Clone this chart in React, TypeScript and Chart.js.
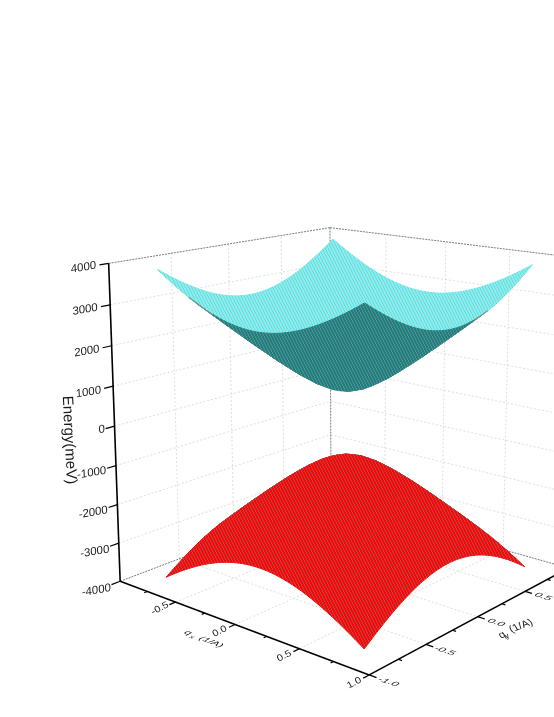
import React, { useEffect, useRef } from "react";
import { Chart, registerables } from "chart.js";
Chart.register(...registerables);

// |q| sampled from the centre of the surface to its edge; the surfaces are symmetric in qx and qy
const qSteps = [0, 0.0667, 0.1333, 0.2, 0.2667, 0.3333, 0.4, 0.4667, 0.5333, 0.6, 0.6667, 0.7333, 0.8];
const upperQuarter = [
  [800,830,915,1041,1195,1368,1553,1747,1947,2151,2359,2569,2780],
  [830,859,941,1064,1215,1386,1569,1761,1960,2163,2369,2578,2789],
  [915,941,1017,1131,1275,1438,1615,1803,1997,2197,2400,2607,2816],
  [1041,1064,1131,1235,1368,1521,1690,1870,2058,2252,2451,2654,2859],
  [1195,1215,1275,1368,1489,1631,1789,1960,2140,2327,2520,2718,2919],
  [1368,1386,1438,1521,1631,1761,1909,2070,2241,2421,2607,2798,2994],
  [1553,1569,1615,1690,1789,1909,2046,2197,2359,2530,2709,2893,3083],
  [1747,1761,1803,1870,1960,2070,2197,2338,2491,2654,2824,3002,3185],
  [1947,1960,1997,2058,2140,2241,2359,2491,2635,2789,2952,3122,3299],
  [2151,2163,2197,2252,2327,2421,2530,2654,2789,2936,3091,3254,3423],
  [2359,2369,2400,2451,2520,2607,2709,2824,2952,3091,3239,3394,3557],
  [2569,2578,2607,2654,2718,2798,2893,3002,3122,3254,3394,3544,3700],
  [2780,2789,2816,2859,2919,2994,3083,3185,3299,3423,3557,3700,3850],
];
const lowerQuarter = [
  [-900,-928,-1007,-1126,-1274,-1442,-1624,-1816,-2015,-2219,-2427,-2638,-2851],
  [-928,-955,-1032,-1148,-1294,-1460,-1640,-1830,-2028,-2231,-2437,-2647,-2859],
  [-1007,-1032,-1103,-1213,-1351,-1511,-1686,-1872,-2065,-2265,-2468,-2676,-2886],
  [-1126,-1148,-1213,-1313,-1442,-1593,-1760,-1938,-2126,-2320,-2519,-2723,-2930],
  [-1274,-1294,-1351,-1442,-1561,-1701,-1858,-2028,-2208,-2395,-2589,-2787,-2990],
  [-1442,-1460,-1511,-1593,-1701,-1830,-1977,-2138,-2309,-2489,-2676,-2868,-3065],
  [-1624,-1640,-1686,-1760,-1858,-1977,-2114,-2265,-2427,-2599,-2778,-2964,-3155],
  [-1816,-1830,-1872,-1938,-2028,-2138,-2265,-2406,-2559,-2723,-2895,-3073,-3258],
  [-2015,-2028,-2065,-2126,-2208,-2309,-2427,-2559,-2704,-2859,-3023,-3195,-3373],
  [-2219,-2231,-2265,-2320,-2395,-2489,-2599,-2723,-2859,-3007,-3163,-3327,-3499],
  [-2427,-2437,-2468,-2519,-2589,-2676,-2778,-2895,-3023,-3163,-3312,-3469,-3634],
  [-2638,-2647,-2676,-2723,-2787,-2868,-2964,-3073,-3195,-3327,-3469,-3620,-3778],
  [-2851,-2859,-2886,-2930,-2990,-3065,-3155,-3258,-3373,-3499,-3634,-3778,-3929],
];
const energyTicks = [-4000, -3000, -2000, -1000, 0, 1000, 2000, 3000, 4000];
const qxTicks = [-0.5, 0, 0.5, 1];
const qyTicks = [-1, -0.5, 0, 0.5];
const qMinor = [-0.75, -0.25, 0.25, 0.75];
const gridQ = [-0.5, 0, 0.5];

const qGrid = [...qSteps.slice(1).reverse().map((q) => -q), ...qSteps];
const mirrorRow = (r: number[]) => [...r.slice(1).reverse(), ...r];
const mirror = (t: number[][]) => [...t.slice(1).reverse(), ...t].map(mirrorRow);
const upperEnergy = mirror(upperQuarter);
const lowerEnergy = mirror(lowerQuarter);

// camera: calibration of the 3D box against the picture (qx, qy, E/4000 -> px)
const anchors: number[][] = [
  [-1,-1,1,108,264],[-1,-1,-1,120,581],[-1,1,1,331,228],[-1,1,-1,331,500],
  [1,1,1,578,257],[1,1,-1,568,569],[1,-1,-1,370,674],
  [-0.5,-1,-1,175,603],[0,-1,-1,235,624],[0.5,-1,-1,300,649],
  [1,-0.5,-1,427,643],[1,0,-1,477,618],[1,0.5,-1,525,592],
];
function solveCamera(): number[] {
  const n = 11;
  const A: number[][] = Array.from({ length: n }, () => new Array(n + 1).fill(0));
  const add = (r: number[], b: number) => {
    for (let i = 0; i < n; i++) {
      for (let j = 0; j < n; j++) A[i][j] += r[i] * r[j];
      A[i][n] += r[i] * b;
    }
  };
  for (const [x, y, z, u, v] of anchors) {
    add([x, y, z, 1, 0, 0, 0, 0, -u * x, -u * y, -u * z], u);
    add([0, 0, 0, 0, x, y, z, 1, -v * x, -v * y, -v * z], v);
  }
  for (let c = 0; c < n; c++) {
    let p = c;
    for (let r = c + 1; r < n; r++) if (Math.abs(A[r][c]) > Math.abs(A[p][c])) p = r;
    [A[c], A[p]] = [A[p], A[c]];
    for (let r = 0; r < n; r++) {
      if (r === c) continue;
      const f = A[r][c] / A[c][c];
      for (let k = c; k <= n; k++) A[r][k] -= f * A[c][k];
    }
  }
  return A.map((row, i) => row[n] / row[i]);
}
const M = solveCamera();
const depth = (x: number, y: number, z: number) => M[8] * x + M[9] * y + M[10] * z + 1;
const proj = (x: number, y: number, E: number) => {
  const z = E / 4000;
  const h = depth(x, y, z);
  return { x: (M[0] * x + M[1] * y + M[2] * z + M[3]) / h, y: (M[4] * x + M[5] * y + M[6] * z + M[7]) / h };
};

function speckle(base: string, spot: string, size = 6): CanvasPattern | string {
  const c = document.createElement("canvas");
  c.width = size; c.height = size;
  const g = c.getContext("2d");
  if (!g) return base;
  g.fillStyle = base; g.fillRect(0, 0, size, size);
  g.fillStyle = spot;
  for (let i = 0; i < size; i++) {
    g.fillRect(i, (i * 2) % size, 1, 1);
    g.fillRect(i, (i * 2 + 1) % size, 1, 1);
  }
  return g.createPattern(c, "repeat") || base;
}

function lineDs(a: any, b: any, color: string, width: number, dash: number[] = []) {
  return { data: [a, b], showLine: true, borderColor: color, borderWidth: width, borderDash: dash, pointRadius: 0, fill: false, clip: false };
}

function surface(E: number[][], top: any, under: any, edgeOn: any) {
  const quads: any[] = [];
  for (let i = 0; i < qGrid.length - 1; i++) {
    for (let j = 0; j < qGrid.length - 1; j++) {
      const c = [[i, j], [i + 1, j], [i + 1, j + 1], [i, j + 1]].map(([a, b]) => proj(qGrid[a], qGrid[b], E[a][b]));
      const f = [[i, j], [i + 1, j], [i + 1, j + 1], [i, j + 1]].map(([a, b]) => proj(qGrid[a], qGrid[b], -4000));
      const areaOf = (pts: any[]) => {
        let s = 0;
        for (let k = 0; k < 4; k++) {
          const p = pts[k], q = pts[(k + 1) % 4];
          s += p.x * q.y - q.x * p.y;
        }
        return s;
      };
      const area = areaOf(c);
      const ratio = Math.abs(area / areaOf(f));
      const col = ratio < 0.2 ? edgeOn : area < 0 ? top : under;
      const d = depth((qGrid[i] + qGrid[i + 1]) / 2, (qGrid[j] + qGrid[j + 1]) / 2, (E[i][j] + E[i + 1][j + 1]) / 8000);
      quads.push({ d, ds: { data: [...c, c[0]], showLine: true, fill: "shape", backgroundColor: col, borderColor: col, borderWidth: 1, pointRadius: 0, clip: false } });
    }
  }
  return quads.sort((a, b) => b.d - a.d).map((q) => q.ds);
}

// b: direction of the baseline; u: direction of the letters' up stroke
function text(ctx: CanvasRenderingContext2D, s: string, x: number, y: number, b: number[], u: number[], font: string) {
  ctx.save();
  ctx.transform(b[0], b[1], -u[0], -u[1], x, y);
  ctx.font = font;
  ctx.fillStyle = "#1a1a1a";
  ctx.textAlign = "center";
  ctx.textBaseline = "middle";
  ctx.fillText(s, 0, 0);
  ctx.restore();
}

const labelsPlugin = {
  id: "labels3d",
  afterDraw(chart: any) {
    const ctx: CanvasRenderingContext2D = chart.ctx;
    const sx = chart.scales.x, sy = chart.scales.y;
    const at = (p: any) => ({ x: sx.getPixelForValue(p.x), y: sy.getPixelForValue(p.y) });
    const font = (n: number) => `${n}px 'Liberation Sans'`;
    for (const e of energyTicks) {
      const p = at(proj(-1, -1 - (e === 0 ? 0.1 : 0.19), e));
      text(ctx, String(e), p.x, p.y, [0.985, -0.17], [-0.05, -1], font(11.5));
    }
    for (const q of qxTicks) {
      const p = at(proj(q, -1.125, -4000));
      text(ctx, q.toFixed(1), p.x, p.y, [0.87, -0.45], [-0.4, -0.75], font(11));
    }
    for (const q of qyTicks) {
      const p = at(proj(1.13, q, -4000));
      text(ctx, q.toFixed(1), p.x, p.y, [0.94, 0.3], [0.6, -0.4], font(12));
    }
    text(ctx, "Energy(meV)", 69, 440, [0.05, 1], [1, -0.05], font(15));
    text(ctx, "q", 188, 633, [0.93, 0.36], [0.7, -0.4], font(11));
    text(ctx, "x", 192, 637, [0.93, 0.36], [0.7, -0.4], font(8));
    text(ctx, "(1/A)", 211, 642, [0.93, 0.36], [0.7, -0.4], font(11));
    text(ctx, "q", 502, 635, [0.94, -0.34], [-0.5, -0.8], font(11));
    text(ctx, "y", 507, 636, [0.94, -0.34], [-0.5, -0.8], font(8));
    text(ctx, "(1/A)", 521, 626, [0.94, -0.34], [-0.5, -0.8], font(11));
  },
};

export default function App() {
  const ref = useRef<HTMLCanvasElement>(null);
  useEffect(() => {
    if (!ref.current) return;
    const grid = "rgba(205,205,205,0.65)";
    const edge = "rgba(110,110,110,0.9)";
    const back: any[] = [];
    for (const e of energyTicks.slice(1, -1)) {
      back.push(lineDs(proj(-1, -1, e), proj(-1, 1, e), grid, 1, [2, 2]));
      back.push(lineDs(proj(-1, 1, e), proj(1, 1, e), grid, 1, [2, 2]));
    }
    for (const q of gridQ) {
      back.push(lineDs(proj(-1, q, -4000), proj(-1, q, 4000), grid, 1, [2, 2]));
      back.push(lineDs(proj(q, 1, -4000), proj(q, 1, 4000), grid, 1, [2, 2]));
      back.push(lineDs(proj(q, -1, -4000), proj(q, 1, -4000), grid, 1, [2, 2]));
      back.push(lineDs(proj(-1, q, -4000), proj(1, q, -4000), grid, 1, [2, 2]));
    }
    back.push(lineDs(proj(-1, -1, 4000), proj(-1, 1, 4000), edge, 1, [2, 1]));
    back.push(lineDs(proj(-1, 1, 4000), proj(1, 1, 4000), edge, 1, [2, 1]));
    back.push(lineDs(proj(-1, 1, 4000), proj(-1, 1, -4000), edge, 1, [2, 1]));
    back.push(lineDs(proj(-1, -1, -4000), proj(-1, 1, -4000), edge, 1, [2, 1]));
    back.push(lineDs(proj(1, 1, -4000), proj(-1, 1, -4000), edge, 1, [2, 1]));

    const cyan = speckle("#70f6f6", "#9cc8c8");
    const teal = speckle("#1c8080", "#5a8c8c");
    const red = speckle("#ff0404", "#b04848");
    const lower = surface(lowerEnergy, red, red, speckle("#a84a4a", "#808080"));
    const upper = surface(upperEnergy, cyan, teal, speckle("#5e9a9a", "#808c8c"));

    const axes: any[] = [];
    const k = "#000";
    axes.push(lineDs(proj(-1, -1, 4000), proj(-1, -1, -4000), k, 1.6));
    axes.push(lineDs(proj(-1, -1, -4000), proj(1, -1, -4000), k, 1.6));
    axes.push(lineDs(proj(1, -1, -4000), proj(1, 1, -4000), k, 1.6));
    for (const e of energyTicks) axes.push(lineDs(proj(-1, -1, e), proj(-1, -1.07, e), k, 1.2));
    for (const q of qxTicks) axes.push(lineDs(proj(q, -1, -4000), proj(q, -1.05, -4000), k, 1.2));
    for (const q of qyTicks) axes.push(lineDs(proj(1, q, -4000), proj(1.05, q, -4000), k, 1.2));
    for (const q of qMinor) {
      axes.push(lineDs(proj(q, -1, -4000), proj(q, -1.025, -4000), k, 1.2));
      axes.push(lineDs(proj(1, q, -4000), proj(1.025, q, -4000), k, 1.2));
    }
    const datasets = [...back, ...lower, ...upper, ...axes].reverse();
    const chart = new Chart(ref.current, {
      type: "scatter",
      data: { datasets },
      options: {
        animation: false,
        responsive: false,
        layout: { padding: 0 },
        plugins: { legend: { display: false }, tooltip: { enabled: false }, title: { display: false } },
        scales: {
          x: { type: "linear", min: 0, max: 554, display: false },
          y: { type: "linear", min: 0, max: 717, reverse: true, display: false },
        },
      } as any,
      plugins: [labelsPlugin],
    });
    return () => chart.destroy();
  }, []);
  return (
    <div style={{ position: "absolute", left: 0, top: 0, width: 554, height: 717, background: "#fff", overflow: "hidden" }}>
      <canvas ref={ref} width={554} height={717} style={{ display: "block" }} />
    </div>
  );
}
